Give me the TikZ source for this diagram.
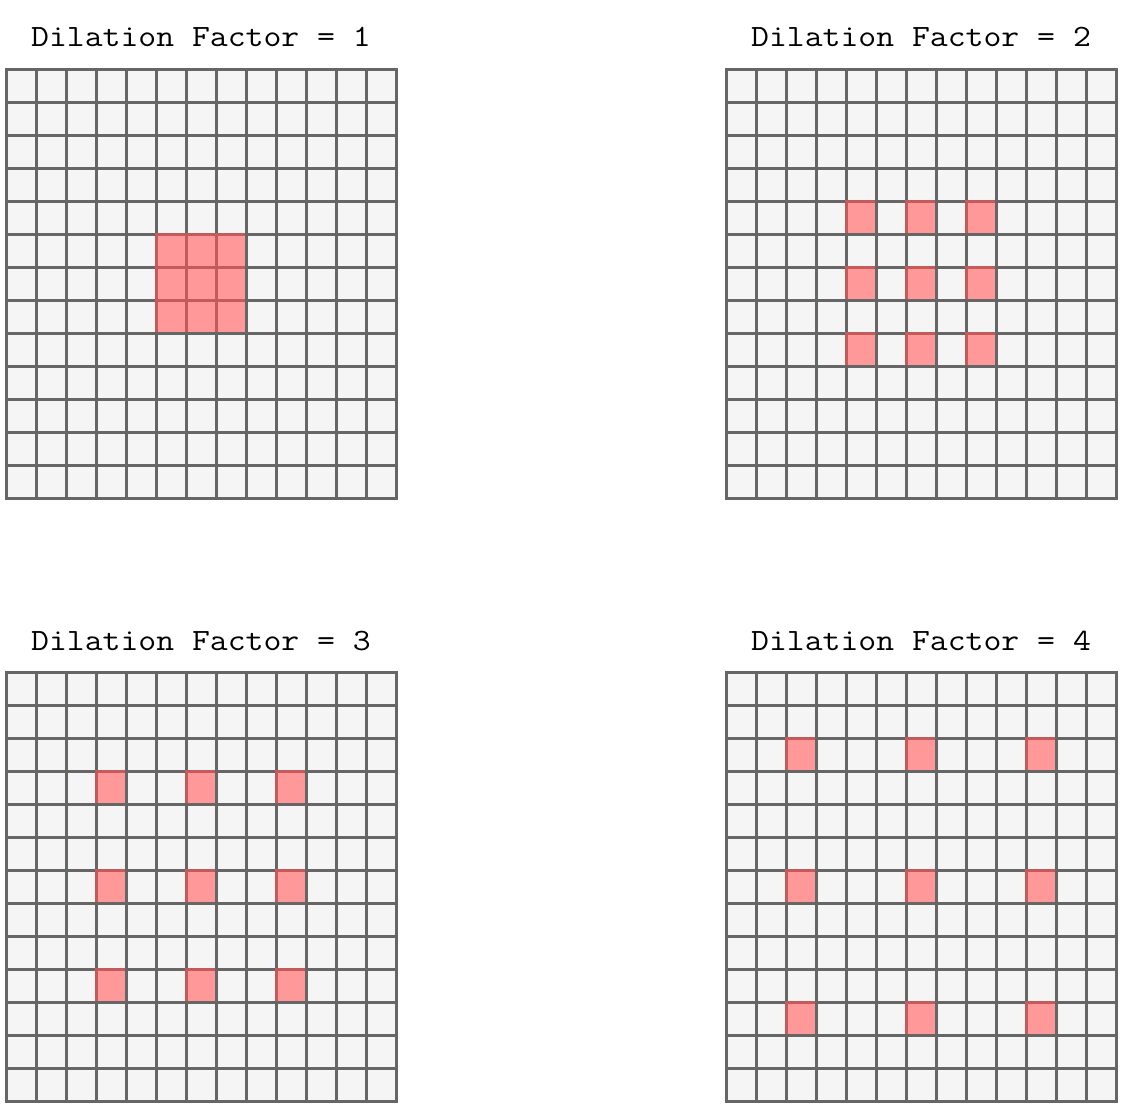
\documentclass[tikz,border=0pt]{standalone}
\usepackage{fontspec}
\setmonofont{Latin Modern Mono}[FakeStretch=1.12]
\definecolor{cellgray}{HTML}{F5F5F5}
\definecolor{linegray}{HTML}{666666}
\definecolor{hitred}{HTML}{FF9999}
\definecolor{hitedge}{HTML}{C45A5A}

% one 13x13 grid with its 3x3 dilated kernel, drawn cell by cell
\newcommand\dilgrid[3]{
  \foreach \r in {0,...,12}
    \foreach \c in {0,...,12} {
      \pgfmathtruncatemacro\ishit{(abs(\c-6)<=#3) && (abs(\r-6)<=#3) && (mod(\c-6,#3)==0) && (mod(\r-6,#3)==0)}
      \ifnum\ishit=1
        \draw[hitbox] ({#1+30*\c},{#2+33*\r}) rectangle ++(30,33);
      \else
        \draw[cellbox] ({#1+30*\c},{#2+33*\r}) rectangle ++(30,33);
      \fi
    }
  \node[titletext] (title#3) at ({#1+195},{#2-22}) {Dilation Factor = #3};
}

\begin{document}
\begin{tikzpicture} [
x=1pt, y=-1pt,
cellbox/.style={draw=linegray, fill=cellgray, line width=3pt},
hitbox/.style={draw=hitedge, fill=hitred, line width=3pt},
titletext/.style={font=\ttfamily\fontsize{31}{37}\selectfont, anchor=base, inner sep=0pt},
]
\useasboundingbox (0,0) rectangle (1123,1108);

%Grids
\dilgrid{6}{69}{1}
\dilgrid{726}{69}{2}
\dilgrid{6}{672}{3}
\dilgrid{726}{672}{4}

\end{tikzpicture}
\end{document}
